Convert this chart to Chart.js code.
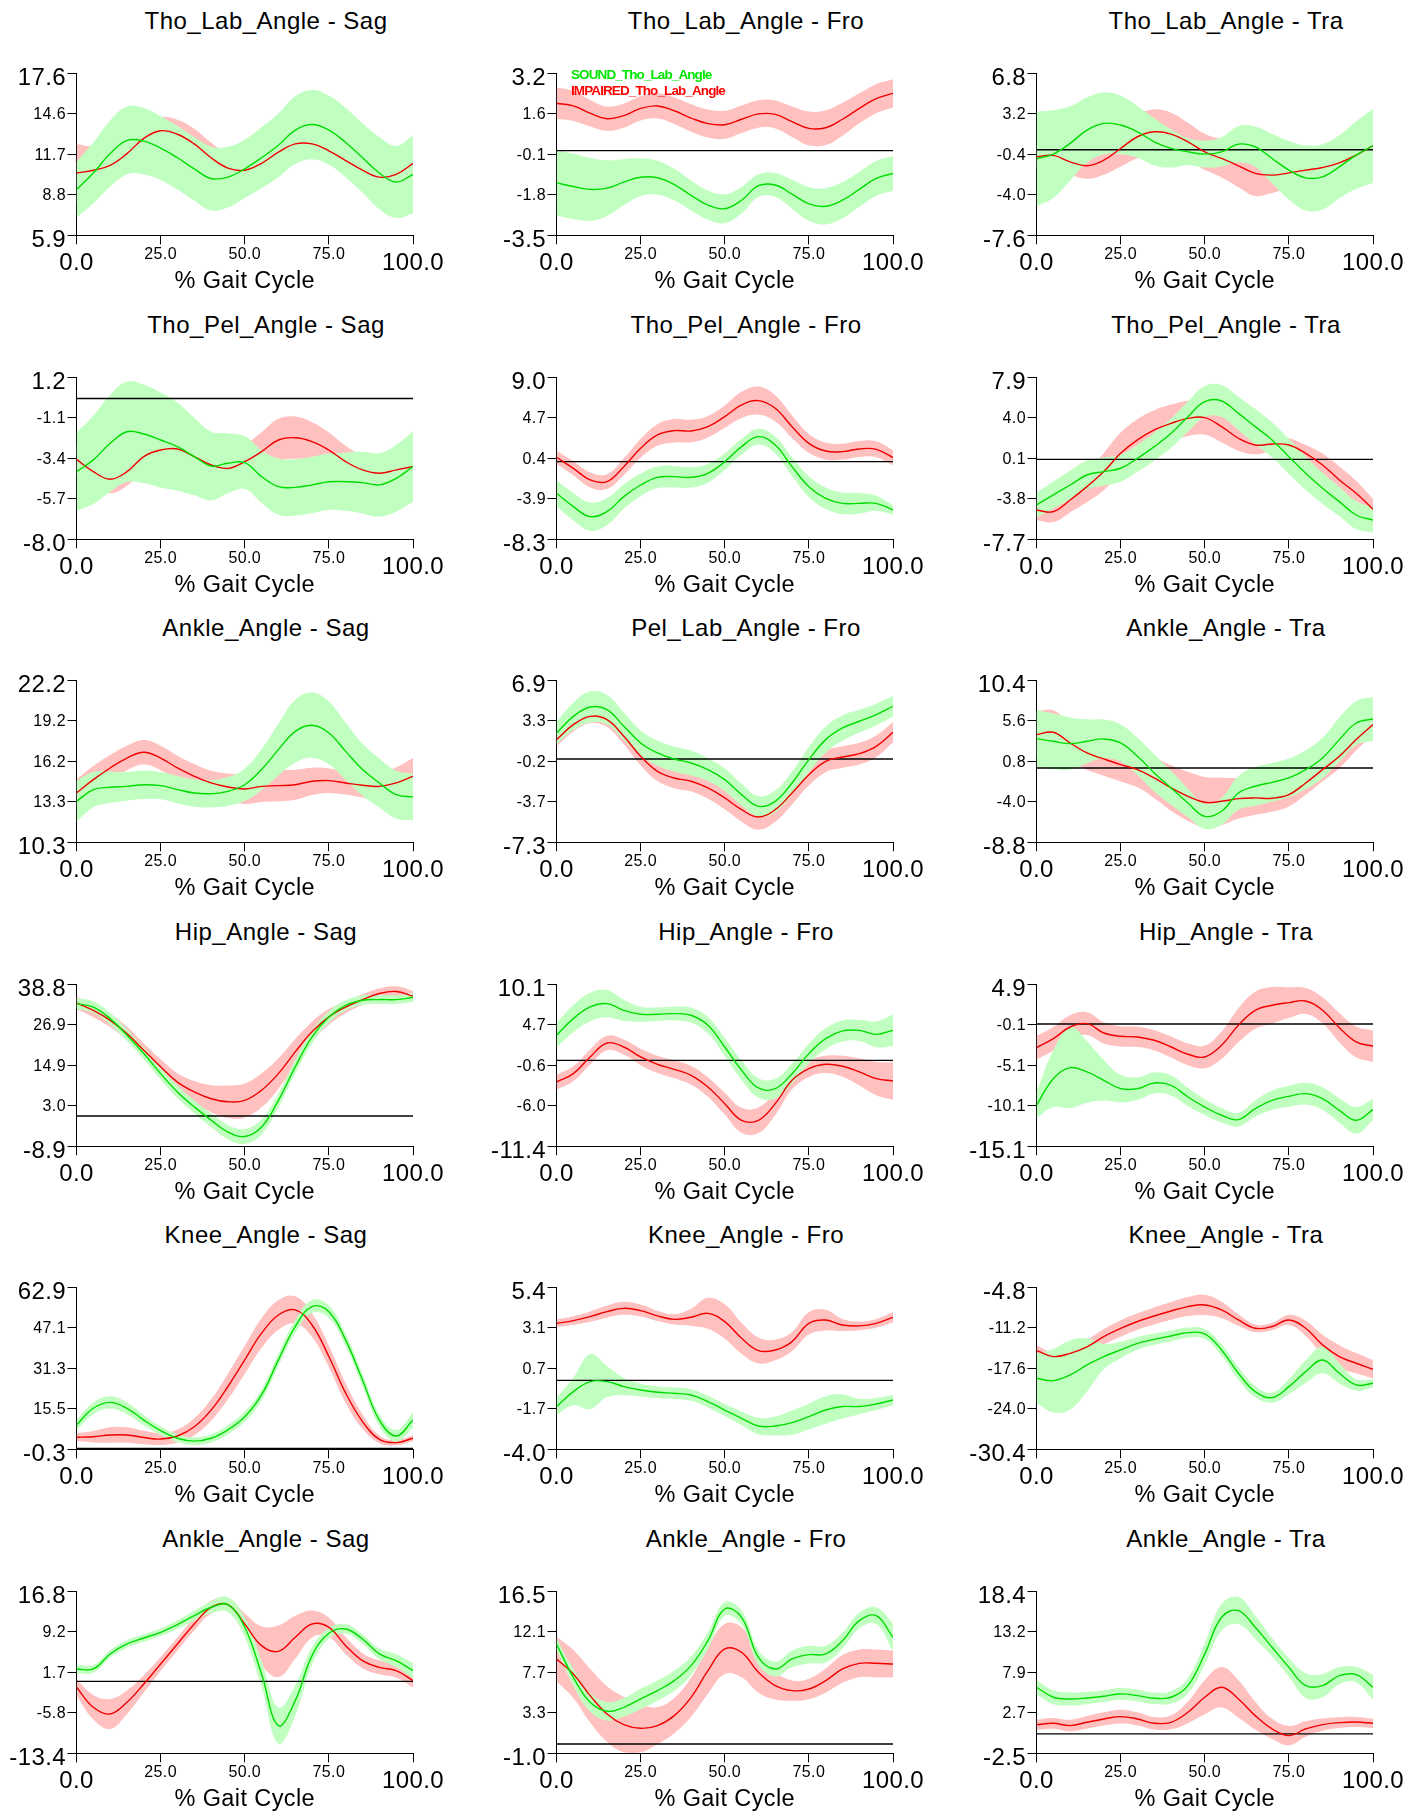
<!DOCTYPE html>
<html>
<head>
<meta charset="utf-8">
<script src="https://cdn.jsdelivr.net/npm/chart.js@4.4.1/dist/chart.umd.min.js"></script>
<style>
  html, body { margin: 0; padding: 0; background: #fff; }
  body { width: 1414px; height: 1813px; position: relative; overflow: hidden;
         font-family: "Liberation Sans", Arial, sans-serif; }
  canvas { position: absolute; }
  .ttl { position: absolute; font-size: 24px; line-height: 26px; letter-spacing: 0.5px;
         white-space: nowrap; color: #000; transform: translateX(-50%); }
</style>
</head>
<body>
<script>
// ---------------- DATA ----------------
const xPct = [0,5,10,15,20,25,30,35,40,45,50,55,60,65,70,75,80,85,90,95,100];
const xTickValues = [0, 25, 50, 75, 100];
const xTickLabels = ['0.0', '25.0', '50.0', '75.0', '100.0'];
const zeroLineX = [0, 100];
const zeroLineY = [0, 0];

const titles = [
  'Tho_Lab_Angle - Sag', 'Tho_Lab_Angle - Fro', 'Tho_Lab_Angle - Tra',
  'Tho_Pel_Angle - Sag', 'Tho_Pel_Angle - Fro', 'Tho_Pel_Angle - Tra',
  'Ankle_Angle - Sag', 'Pel_Lab_Angle - Fro', 'Ankle_Angle - Tra',
  'Hip_Angle - Sag', 'Hip_Angle - Fro', 'Hip_Angle - Tra',
  'Knee_Angle - Sag', 'Knee_Angle - Fro', 'Knee_Angle - Tra',
  'Ankle_Angle - Sag', 'Ankle_Angle - Fro', 'Ankle_Angle - Tra'
];
const yMins = [5.9,-3.5,-7.6,-8.0,-8.3,-7.7,10.3,-7.3,-8.8,-8.9,-11.4,-15.1,-0.3,-4.0,-30.4,-13.4,-1.0,-2.5];
const yMaxs = [17.6,3.2,6.8,1.2,9.0,7.9,22.2,6.9,10.4,38.8,10.1,4.9,62.9,5.4,-4.8,16.8,16.5,18.4];
const yTickLabels = [
  ['5.9','8.8','11.7','14.6','17.6'],
  ['-3.5','-1.8','-0.1','1.6','3.2'],
  ['-7.6','-4.0','-0.4','3.2','6.8'],
  ['-8.0','-5.7','-3.4','-1.1','1.2'],
  ['-8.3','-3.9','0.4','4.7','9.0'],
  ['-7.7','-3.8','0.1','4.0','7.9'],
  ['10.3','13.3','16.2','19.2','22.2'],
  ['-7.3','-3.7','-0.2','3.3','6.9'],
  ['-8.8','-4.0','0.8','5.6','10.4'],
  ['-8.9','3.0','14.9','26.9','38.8'],
  ['-11.4','-6.0','-0.6','4.7','10.1'],
  ['-15.1','-10.1','-5.1','-0.1','4.9'],
  ['-0.3','15.5','31.3','47.1','62.9'],
  ['-4.0','-1.7','0.7','3.1','5.4'],
  ['-30.4','-24.0','-17.6','-11.2','-4.8'],
  ['-13.4','-5.8','1.7','9.2','16.8'],
  ['-1.0','3.3','7.7','12.1','16.5'],
  ['-2.5','2.7','7.9','13.2','18.4']
];

// Panel 1: Tho_Lab_Angle - Sag
const p1SoundMean = [9.2,10.4,11.8,12.75,12.7,12.2,11.5,10.7,10.0,10.1,10.7,11.5,12.4,13.5,13.9,13.5,12.6,11.5,10.4,9.75,10.3];
const p1SoundSd   = [2.0,2.2,2.4,2.45,2.4,2.3,2.3,2.3,2.3,2.2,2.1,2.2,2.3,2.45,2.5,2.5,2.5,2.5,2.6,2.6,2.8];
const p1ImpMean   = [10.4,10.6,10.95,11.8,12.9,13.45,13.2,12.5,11.5,10.75,10.6,11.1,11.9,12.5,12.5,12.0,11.3,10.6,10.1,10.3,11.1];
const p1ImpSd     = [2.1,1.7,1.3,1.1,1.0,1.0,1.05,1.1,1.1,1.0,0.9,0.9,0.9,0.9,0.9,0.9,0.9,0.9,0.9,0.9,0.9];
// Panel 2: Tho_Lab_Angle - Fro
const p2SoundMean = [-1.33,-1.48,-1.6,-1.55,-1.3,-1.1,-1.12,-1.4,-1.85,-2.25,-2.4,-2.05,-1.45,-1.42,-1.8,-2.2,-2.3,-2.05,-1.6,-1.15,-0.94];
const p2SoundSd   = [1.35,1.35,1.3,1.15,0.95,0.78,0.7,0.65,0.62,0.6,0.6,0.55,0.47,0.5,0.6,0.7,0.75,0.75,0.72,0.72,0.72];
const p2ImpMean   = [1.96,1.85,1.55,1.32,1.45,1.75,1.85,1.65,1.35,1.12,1.07,1.3,1.52,1.5,1.2,0.92,0.95,1.3,1.75,2.15,2.37];
const p2ImpSd     = [0.65,0.62,0.55,0.5,0.5,0.5,0.52,0.55,0.57,0.58,0.58,0.57,0.57,0.58,0.63,0.7,0.72,0.68,0.62,0.6,0.58];
// Panel 3: Tho_Lab_Angle - Tra
const p3SoundMean = [-0.8,-0.38,0.57,1.75,2.35,2.2,1.6,0.71,0.12,-0.18,-0.38,-0.18,0.5,0.27,-0.77,-1.81,-2.49,-2.4,-1.51,-0.47,0.36];
const p3SoundSd   = [4.2,3.9,3.3,2.9,2.75,2.6,2.3,2.1,1.7,1.2,1.2,1.3,1.6,1.8,2.2,2.6,2.9,2.9,2.8,3.0,3.3];
const p3ImpMean   = [-0.62,-0.5,-1.07,-1.42,-0.92,0.12,1.16,1.6,1.4,0.71,-0.18,-0.77,-1.42,-2.1,-2.25,-2.05,-1.81,-1.57,-1.16,-0.47,0.36];
const p3ImpSd     = [1.0,1.0,1.1,1.15,1.3,1.6,1.9,2.0,1.9,1.7,1.6,1.7,1.9,2.0,1.6,1.3,1.1,1.0,0.9,0.9,0.9];
// Panel 4: Tho_Pel_Angle - Sag
const p4SoundMean = [-4.16,-3.49,-2.55,-1.89,-2.02,-2.36,-2.74,-3.3,-3.84,-3.68,-3.65,-4.44,-5.01,-5.05,-4.91,-4.73,-4.73,-4.78,-4.91,-4.54,-3.87];
const p4SoundSd   = [2.2,2.5,2.75,2.85,2.8,2.7,2.5,2.2,1.95,1.7,1.5,1.5,1.6,1.6,1.6,1.6,1.65,1.75,1.8,1.9,2.0];
const p4ImpMean   = [-3.46,-4.16,-4.59,-4.16,-3.3,-2.93,-2.87,-3.3,-3.78,-3.97,-3.59,-3.02,-2.36,-2.23,-2.45,-2.93,-3.59,-4.06,-4.25,-4.06,-3.87];
const p4ImpSd     = [0.8,0.8,0.8,0.8,0.8,0.8,0.8,0.8,0.8,0.85,0.95,1.1,1.2,1.2,1.1,1.0,0.9,0.8,0.7,0.7,0.7];
// Panel 5: Tho_Pel_Angle - Fro
const p5SoundMean = [-3.39,-4.81,-5.88,-5.35,-3.74,-2.5,-1.68,-1.61,-1.68,-1.25,-0.01,1.6,2.66,1.77,-0.54,-2.68,-3.92,-4.46,-4.46,-4.46,-5.17];
const p5SoundSd   = [1.4,1.45,1.5,1.45,1.3,1.2,1.15,1.15,1.1,1.0,0.9,0.85,0.85,0.9,1.0,1.1,1.15,1.15,1.1,0.8,0.5];
const p5ImpMean   = [0.46,-0.72,-1.96,-2.14,-0.54,1.42,2.84,3.3,3.27,3.73,4.8,6.05,6.51,5.69,3.73,1.95,1.13,1.06,1.35,1.31,0.42];
const p5ImpSd     = [0.7,0.75,0.8,0.8,0.9,1.0,1.15,1.25,1.2,1.15,1.2,1.4,1.5,1.4,1.2,1.0,0.9,0.85,0.85,0.85,0.8];
// Panel 6: Tho_Pel_Angle - Tra
const p6SoundMean = [-4.39,-3.43,-2.47,-1.51,-1.18,-0.86,0.1,1.22,2.51,4.11,5.56,5.62,4.43,3.15,1.87,0.26,-1.34,-2.79,-4.07,-5.36,-5.84];
const p6SoundSd   = [1.2,1.3,1.4,1.4,1.35,1.3,1.3,1.35,1.4,1.45,1.5,1.55,1.6,1.7,1.7,1.7,1.6,1.5,1.4,1.35,1.2];
const p6ImpMean   = [-4.88,-5.04,-3.91,-2.63,-1.18,0.58,1.87,2.83,3.47,3.95,4.02,3.15,2.03,1.38,1.48,1.38,0.58,-0.54,-1.99,-3.27,-4.81];
const p6ImpSd     = [0.95,1.0,1.2,1.5,1.8,2.0,2.0,1.9,1.8,1.7,1.65,1.5,1.2,0.9,0.7,0.65,0.8,1.1,1.3,1.2,1.0];
// Panel 7: Ankle_Angle - Sag
const p7SoundMean = [13.31,14.17,14.34,14.41,14.53,14.46,14.17,13.92,13.87,14.04,14.53,15.64,17.11,18.45,18.9,18.33,16.98,15.64,14.66,13.8,13.63];
const p7SoundSd   = [1.5,1.3,1.15,1.05,1.05,1.0,1.0,1.0,1.0,1.05,1.2,1.5,1.9,2.3,2.4,2.3,2.1,1.9,1.8,1.75,1.7];
const p7ImpMean   = [13.92,14.9,15.76,16.49,16.91,16.49,15.76,15.15,14.66,14.36,14.22,14.41,14.46,14.53,14.78,14.83,14.66,14.49,14.41,14.66,15.15];
const p7ImpSd     = [1.0,1.0,0.95,0.9,0.9,0.9,0.9,0.9,0.9,1.0,1.1,1.15,1.15,1.1,1.0,0.9,0.85,0.9,1.0,1.15,1.35];
// Panel 8: Pel_Lab_Angle - Fro
const p8SoundMean = [2.28,3.74,4.56,4.33,2.87,1.41,0.53,0.0,-0.35,-0.93,-1.81,-3.12,-4.15,-3.71,-2.1,-0.05,1.7,2.72,3.31,3.89,4.62];
const p8SoundSd   = [1.0,1.2,1.35,1.3,1.2,1.1,1.1,1.1,1.1,1.0,1.0,0.95,0.9,0.95,1.0,1.1,1.15,1.1,1.0,0.95,0.9];
const p8ImpMean   = [1.7,3.01,3.74,3.45,1.99,0.24,-1.08,-1.66,-1.95,-2.54,-3.41,-4.44,-5.08,-4.44,-2.98,-1.37,-0.2,0.18,0.47,1.11,2.34];
const p8ImpSd     = [0.6,0.6,0.6,0.65,0.7,0.8,0.85,0.9,0.9,0.95,1.0,1.05,1.1,1.05,1.0,0.95,0.95,0.95,0.95,0.95,0.9];
// Panel 9: Ankle_Angle - Tra
const p9SoundMean = [3.49,3.17,2.9,3.17,3.45,2.97,1.39,-0.58,-2.36,-4.14,-5.72,-5.12,-2.95,-2.16,-1.69,-1.17,-0.19,1.2,3.37,5.34,5.82];
const p9SoundSd   = [3.4,3.3,3.1,2.6,2.3,2.2,2.2,2.2,2.0,1.7,1.5,1.6,2.0,2.3,2.3,2.3,2.3,2.4,2.6,2.6,2.6];
const p9ImpMean   = [3.96,4.24,2.97,1.79,1.08,0.41,-0.19,-1.17,-2.36,-3.35,-4.06,-3.94,-3.62,-3.54,-3.58,-3.15,-1.77,-0.19,1.39,3.37,5.15];
const p9ImpSd     = [2.8,2.6,2.2,2.0,2.0,2.0,2.1,2.4,2.7,2.9,3.0,2.8,2.4,2.0,1.6,1.4,1.4,1.4,1.4,1.3,1.2];
// Panel 10: Hip_Angle - Sag
const p10SoundMean = [33.1,32.1,28.7,23.8,18.4,12.5,7.1,2.7,-1.2,-4.7,-6.0,-3.2,4.6,14.5,23.3,29.2,32.6,34.1,34.3,34.3,34.9];
const p10SoundSd   = [1.6,1.7,1.7,1.7,1.7,1.7,1.8,1.9,2.0,2.1,2.2,2.2,2.1,2.0,1.9,1.7,1.5,1.4,1.3,1.3,1.3];
const p10ImpMean   = [33.3,31.1,28.2,24.3,19.4,14.5,10.0,7.1,5.1,4.2,4.6,7.6,12.5,18.9,24.8,29.2,32.1,34.3,36.1,36.7,35.3];
const p10ImpSd     = [1.8,2.0,2.0,2.0,2.0,2.2,2.6,3.2,4.0,4.8,5.0,5.0,4.5,3.8,3.0,2.3,1.8,1.6,1.5,1.5,1.5];
// Panel 11: Hip_Angle - Fro
const p11SoundMean = [3.33,5.54,7.09,7.53,6.65,6.12,6.12,6.21,5.99,4.66,1.78,-1.31,-3.66,-3.75,-1.76,0.9,2.89,3.91,3.99,3.46,3.99];
const p11SoundSd   = [1.6,1.8,1.9,1.8,1.4,1.0,0.9,0.9,1.0,1.1,1.2,1.3,1.3,1.3,1.3,1.3,1.4,1.4,1.4,1.7,2.1];
const p11ImpMean   = [-2.86,-1.76,0.46,2.31,1.78,0.46,-0.52,-1.18,-1.98,-3.53,-5.74,-7.95,-7.95,-5.74,-2.64,-1.09,-0.52,-0.78,-1.53,-2.42,-2.73];
const p11ImpSd     = [1.0,1.0,1.0,0.95,1.0,1.1,1.15,1.2,1.25,1.3,1.45,1.65,1.7,1.5,1.2,1.1,1.15,1.4,1.8,2.2,2.5];
// Panel 12: Hip_Angle - Tra
const p12SoundMean = [-10.04,-6.75,-5.39,-5.92,-6.95,-7.98,-7.98,-7.28,-7.57,-9.01,-10.25,-11.27,-11.81,-10.45,-9.42,-8.93,-8.6,-9.21,-10.66,-11.89,-10.57];
const p12SoundSd   = [1.6,3.5,5.0,3.8,2.5,1.7,1.4,1.3,1.25,1.15,1.0,0.9,0.85,1.0,1.2,1.3,1.35,1.4,1.5,1.65,1.3];
const p12ImpMean   = [-2.92,-1.81,-0.37,0.04,-1.11,-1.52,-1.6,-2.01,-2.84,-3.74,-4.07,-2.63,-0.16,1.69,2.31,2.64,2.84,1.69,-0.45,-2.22,-2.75];
const p12ImpSd     = [1.45,1.45,1.45,1.4,1.3,1.25,1.25,1.25,1.3,1.35,1.4,1.7,2.1,2.3,2.25,1.9,1.6,1.6,1.8,1.9,1.95];
// Panel 13: Knee_Angle - Sag
const p13SoundMean = [9.2,15.7,18.0,15.7,11.1,7.0,4.0,2.9,4.0,7.3,12.4,20.9,34.6,47.6,55.4,53.4,42.3,26.7,11.1,4.9,11.1];
const p13SoundSd   = [2.0,2.3,2.4,2.3,2.0,1.7,1.5,1.5,1.6,1.8,2.0,2.2,2.4,2.5,2.5,2.4,2.4,2.4,2.3,2.3,3.0];
const p13ImpMean   = [4.4,4.6,5.3,5.3,4.3,3.7,4.9,8.5,15.0,24.2,34.6,45.0,52.1,54.1,48.2,35.9,21.6,10.5,3.6,2.3,4.0];
const p13ImpSd     = [1.5,2.2,3.0,3.0,2.6,2.3,2.5,3.3,4.2,5.0,5.5,5.8,5.8,5.3,4.6,4.2,3.8,2.8,1.5,1.0,1.2];
// Panel 14: Knee_Angle - Fro
const p14SoundMean = [-1.52,-0.65,-0.07,-0.07,-0.36,-0.56,-0.69,-0.75,-0.85,-1.23,-1.72,-2.2,-2.65,-2.65,-2.45,-2.1,-1.72,-1.52,-1.52,-1.37,-1.14];
const p14SoundSd   = [0.5,0.8,1.6,0.9,0.5,0.38,0.34,0.34,0.34,0.34,0.35,0.4,0.48,0.55,0.7,0.75,0.8,0.7,0.45,0.35,0.3];
const p14ImpMean   = [3.31,3.47,3.7,3.99,4.18,4.05,3.74,3.54,3.66,3.89,3.41,2.44,1.73,1.76,2.25,3.31,3.5,3.21,3.16,3.31,3.66];
const p14ImpSd     = [0.22,0.25,0.3,0.35,0.38,0.35,0.3,0.3,0.5,0.9,1.0,0.9,0.75,0.6,0.55,0.65,0.6,0.35,0.25,0.25,0.3];
// Panel 15: Knee_Angle - Tra
const p15SoundMean = [-19.18,-19.55,-18.65,-17.07,-15.76,-14.7,-13.65,-13.02,-12.49,-11.96,-12.17,-14.7,-18.39,-21.29,-22.24,-20.5,-18.13,-16.28,-18.39,-20.23,-19.97];
const p15SoundSd   = [3.9,5.0,5.5,4.2,2.0,1.3,1.0,0.9,0.85,0.8,0.8,0.9,1.0,0.9,0.8,1.2,1.8,2.1,1.6,0.9,0.65];
const p15ImpMean   = [-14.8,-15.75,-15.23,-14.2,-12.6,-11.3,-10.2,-9.33,-8.54,-7.85,-7.59,-8.38,-9.96,-11.28,-11.0,-9.96,-11.28,-13.9,-15.75,-16.8,-17.76];
const p15ImpSd     = [0.8,0.7,0.9,1.1,1.2,1.3,1.3,1.35,1.4,1.5,1.6,1.3,0.9,0.6,0.6,0.8,1.2,1.6,1.8,1.6,1.45];
// Panel 16: Ankle_Angle - Sag
const p16SoundMean = [2.32,2.32,5.12,6.98,8.1,9.16,10.59,12.26,13.82,14.31,10.09,1.39,-8.24,-3.58,4.81,8.97,9.78,7.91,5.12,3.87,2.01];
const p16SoundSd   = [0.8,0.7,0.7,0.7,0.7,0.7,0.8,0.9,1.1,1.4,1.8,2.5,3.4,2.8,1.6,1.0,0.9,0.9,1.0,1.2,1.4];
const p16ImpMean   = [-1.1,-4.82,-6.07,-3.89,-0.47,3.25,6.98,10.71,13.82,14.31,10.71,6.67,5.61,8.22,10.71,10.09,6.67,3.87,2.63,2.01,0.15];
const p16ImpSd     = [1.5,2.3,2.8,2.2,1.6,1.3,1.2,1.2,1.2,1.3,2.0,3.6,4.8,4.0,2.5,1.8,1.6,1.4,1.3,1.3,1.3];
// Panel 17: Ankle_Angle - Fro
const p17SoundMean = [10.81,7.21,4.51,3.54,3.97,4.87,5.77,6.85,8.47,11.17,14.59,13.69,9.37,8.11,9.19,9.66,9.73,11.17,13.33,13.87,11.53];
const p17SoundSd   = [0.6,0.9,1.0,1.0,1.0,1.1,1.1,1.1,1.0,0.9,0.75,0.75,0.8,0.8,0.9,0.95,0.9,0.85,0.85,0.9,1.5];
const p17ImpMean   = [9.19,7.57,5.23,3.25,2.1,1.7,1.99,3.07,5.05,7.93,10.27,9.91,7.75,6.31,5.77,5.95,6.85,8.11,8.72,8.72,8.65];
const p17ImpSd     = [2.4,2.6,2.9,3.0,3.0,2.6,2.0,1.9,2.1,2.5,2.7,2.7,2.2,1.5,1.1,1.1,1.3,1.5,1.5,1.5,1.45];
// Panel 18: Ankle_Angle - Tra
const p18SoundMean = [6.02,4.73,4.51,4.64,4.86,5.16,4.94,4.6,4.73,6.23,10.32,15.05,15.91,13.76,11.18,8.6,6.23,6.23,7.52,7.65,6.02];
const p18SoundSd   = [0.95,0.9,0.85,0.8,0.75,0.75,0.75,0.75,0.8,1.0,1.4,1.7,1.75,1.5,1.2,1.2,1.6,1.5,1.1,1.0,1.6];
const p18ImpMean   = [1.2,1.37,1.07,1.5,1.93,2.23,1.93,1.37,1.5,2.79,4.73,6.02,4.51,2.36,0.65,-0.22,0.65,1.2,1.46,1.54,1.37];
const p18ImpSd     = [0.65,0.7,0.75,0.8,0.85,0.9,0.85,0.8,0.9,1.4,2.2,2.6,2.4,1.8,1.3,1.25,1.0,0.8,0.7,0.65,0.6];

const soundMeans = [p1SoundMean,p2SoundMean,p3SoundMean,p4SoundMean,p5SoundMean,p6SoundMean,p7SoundMean,p8SoundMean,p9SoundMean,p10SoundMean,p11SoundMean,p12SoundMean,p13SoundMean,p14SoundMean,p15SoundMean,p16SoundMean,p17SoundMean,p18SoundMean];
const soundSds   = [p1SoundSd,p2SoundSd,p3SoundSd,p4SoundSd,p5SoundSd,p6SoundSd,p7SoundSd,p8SoundSd,p9SoundSd,p10SoundSd,p11SoundSd,p12SoundSd,p13SoundSd,p14SoundSd,p15SoundSd,p16SoundSd,p17SoundSd,p18SoundSd];
const impMeans   = [p1ImpMean,p2ImpMean,p3ImpMean,p4ImpMean,p5ImpMean,p6ImpMean,p7ImpMean,p8ImpMean,p9ImpMean,p10ImpMean,p11ImpMean,p12ImpMean,p13ImpMean,p14ImpMean,p15ImpMean,p16ImpMean,p17ImpMean,p18ImpMean];
const impSds     = [p1ImpSd,p2ImpSd,p3ImpSd,p4ImpSd,p5ImpSd,p6ImpSd,p7ImpSd,p8ImpSd,p9ImpSd,p10ImpSd,p11ImpSd,p12ImpSd,p13ImpSd,p14ImpSd,p15ImpSd,p16ImpSd,p17ImpSd,p18ImpSd];
const legendPanel = 1;

// ---------------- RENDERING ----------------
Chart.defaults.font.family = '"Liberation Sans", Arial, sans-serif';
Chart.defaults.color = '#000';

const GREEN_LINE = '#00dc00', RED_LINE = '#f00000';
const GREEN_BAND = '#c0ffc0', RED_BAND = '#ffc0c0';

// slightly wider text spacing, like the reference's glyphs
const textSpacing = {
  id: 'textSpacing',
  beforeDraw(chart) { try { chart.ctx.letterSpacing = '0.4px'; } catch (e) {} }
};

const cornerLegend = {
  id: 'cornerLegend',
  afterDatasetsDraw(chart, args, opts) {
    if (!opts || !opts.show) return;
    const { ctx, chartArea } = chart;
    ctx.save();
    ctx.font = 'bold 13.5px "Liberation Sans", Arial, sans-serif';
    try { ctx.letterSpacing = '-0.9px'; } catch (e) {}
    ctx.textBaseline = 'alphabetic';
    ctx.textAlign = 'left';
    chart.data.datasets.filter(d => d.legendColor).forEach((d, i) => {
      ctx.fillStyle = d.legendColor;
      ctx.fillText(d.label, chartArea.left + 14.5, chartArea.top + 6 + i * 16);
    });
    ctx.restore();
  }
};

const isEnd = (i) => i === 0 || i === 4;
const xTickFont = (ctx) => isEnd(ctx.index) ? { size: 24, lineHeight: 1.475 } : { size: 16, lineHeight: 1.2 };
// end labels of the value axis sit a little below their tick (second line of a two-line label)
const yTickFont = (ctx) => isEnd(ctx.index) ? { size: 24, lineHeight: '8px' } : { size: 16, lineHeight: 1.2 };

const pts = (vals) => xPct.map((x, i) => ({ x, y: vals[i] }));
const bandPts = (mean, sd, sign) => xPct.map((x, i) => ({ x, y: mean[i] + sign * sd[i] }));

titles.forEach((title, k) => {
  const r = Math.floor(k / 3), c = k % 3;
  const rowTop = Math.round(r * 303.6);
  const colLeft = 480 * c;

  const t = document.createElement('div');
  t.className = 'ttl';
  t.textContent = title;
  t.style.left = (colLeft + 266) + 'px';
  t.style.top = (rowTop + 8) + 'px';
  document.body.appendChild(t);

  const cv = document.createElement('canvas');
  cv.width = 480; cv.height = 304;
  cv.style.left = colLeft + 'px';
  cv.style.top = rowTop + 'px';
  cv.style.width = '480px'; cv.style.height = '304px';
  document.body.appendChild(cv);

  const yMin = yMins[k], yMax = yMaxs[k], labels = yTickLabels[k];
  const base = title.split(' - ')[0];

  const datasets = [
    { label: 'SOUND_' + base, data: pts(soundMeans[k]), borderColor: GREEN_LINE, borderWidth: 1.4, fill: false, legendColor: '#00e600' },
    { label: 'IMPAIRED_' + base, data: pts(impMeans[k]), borderColor: RED_LINE, borderWidth: 1.4, fill: false, legendColor: '#ff0000' }
  ];
  if (yMin < 0 && yMax > 0) {
    datasets.push({ label: 'zero', data: zeroLineX.map((x, i) => ({ x, y: zeroLineY[i] })), borderColor: '#000', borderWidth: 1.4, tension: 0, fill: false });
  }
  datasets.push(
    { label: 'sound upper', data: bandPts(soundMeans[k], soundSds[k], 1), borderWidth: 0, borderColor: 'rgba(0,0,0,0)', backgroundColor: GREEN_BAND, fill: '+1' },
    { label: 'sound lower', data: bandPts(soundMeans[k], soundSds[k], -1), borderWidth: 0, borderColor: 'rgba(0,0,0,0)', fill: false },
    { label: 'impaired upper', data: bandPts(impMeans[k], impSds[k], 1), borderWidth: 0, borderColor: 'rgba(0,0,0,0)', backgroundColor: RED_BAND, fill: '+1' },
    { label: 'impaired lower', data: bandPts(impMeans[k], impSds[k], -1), borderWidth: 0, borderColor: 'rgba(0,0,0,0)', fill: false }
  );

  const axisGrid = { display: true, drawOnChartArea: false, drawTicks: true, tickLength: 9, color: '#000', lineWidth: 1 };
  const axisBorder = { display: true, color: '#000', width: 1 };

  new Chart(cv, {
    type: 'line',
    data: { datasets },
    plugins: [textSpacing, cornerLegend],
    options: {
      responsive: false,
      animation: false,
      devicePixelRatio: 1,
      events: [],
      layout: { padding: { left: 0, top: 73.3, right: 67, bottom: 8.2 } },
      elements: { point: { radius: 0 }, line: { tension: 0.4 } },
      plugins: {
        legend: { display: false },
        tooltip: { enabled: false },
        title: { display: false },
        cornerLegend: { show: k === legendPanel }
      },
      scales: {
        x: {
          type: 'linear', min: 0, max: 100,
          afterBuildTicks: (s) => { s.ticks = xTickValues.map(v => ({ value: v })); },
          afterFit: (s) => { s.height = 60.5; },
          ticks: { autoSkip: false, maxRotation: 0, padding: 1, color: '#000',
                   callback: (v, i) => xTickLabels[i], font: xTickFont },
          grid: axisGrid, border: axisBorder,
          title: { display: true, text: '% Gait Cycle', color: '#000',
                   font: { size: 23.5, lineHeight: 1.2 }, padding: { top: 0, bottom: 0 } }
        },
        y: {
          type: 'linear', min: yMin, max: yMax,
          afterBuildTicks: (s) => { s.ticks = labels.map((l, i) => ({ value: yMin + i * (yMax - yMin) / 4 })); },
          afterFit: (s) => { s.width = 76.5; },
          ticks: { autoSkip: false, padding: 1.5, labelOffset: 1, color: '#000',
                   callback: (v, i) => isEnd(i) ? ['', labels[i]] : labels[i], font: yTickFont },
          grid: axisGrid, border: axisBorder
        }
      }
    }
  });
});
</script>
</body>
</html>
